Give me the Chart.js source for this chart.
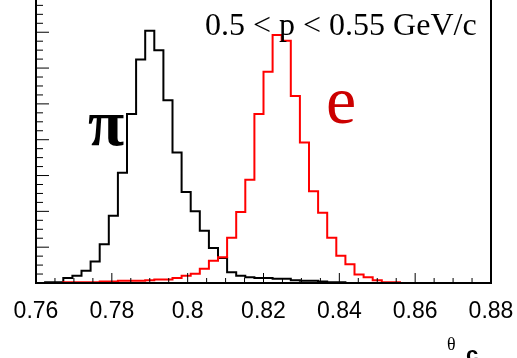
<!DOCTYPE html>
<html>
<head>
<meta charset="utf-8">
<script src="https://cdn.jsdelivr.net/npm/chart.js@4"></script>
<style>
    html, body { margin: 0; padding: 0; background: #fff; }
    #wrap { width: 517px; height: 358px; }
</style>
</head>
<body>
<div id="wrap"><canvas id="myChart" width="517" height="358"></canvas></div>
<script>
// histogram binning (50 bins starting at 0.76)
var binStart = 0.76;
var binWidth = 0.0024;

// pion (black) counts per bin
var pionCounts = [0, 1, 1, 7, 10, 17, 30, 54, 94, 154,
    236, 312, 352, 325, 255, 182, 127, 100, 73, 49,
    35, 15, 10, 8, 7, 7, 6, 6, 4, 3,
    3, 2, 1, 1, 0, 0, 0, 0, 0, 0,
    0, 0, 0, 0, 0, 0, 0, 0, 0, 0];

// electron (red) counts per bin
var electronCounts = [0, 0, 0, 1, 1, 1, 1, 2, 2, 3,
    3, 3, 4, 5, 5, 7, 10, 13, 20, 31,
    36, 63, 99, 144, 236, 295, 346, 338, 261, 196,
    128, 98, 63, 38, 26, 12, 8, 4, 1, 1,
    0, 0, 0, 0, 0, 0, 0, 0, 0, 0];

var xTickValues = [0.76, 0.78, 0.80, 0.82, 0.84, 0.86, 0.88];
var xTickLabels = ['0.76', '0.78', '0.8', '0.82', '0.84', '0.86', '0.88'];
var yTickValues = [0, 50, 100, 150, 200, 250, 300, 350];

function toSteps(counts) {
    var pts = counts.map(function (c, i) { return { x: binStart + i * binWidth, y: c }; });
    pts.push({ x: binStart + counts.length * binWidth, y: 0 });
    return pts;
}

// ROOT tarzı çerçeve, içe dönük tikler ve yazılar
var rootFrame = {
    id: 'rootFrame',
    afterDraw: function (chart) {
        var ctx = chart.ctx;
        var area = chart.chartArea;
        var xs = chart.scales.x;
        var ys = chart.scales.y;
        ctx.save();

        // frame (no top line, it is outside the picture)
        ctx.strokeStyle = '#000';
        ctx.lineWidth = 2;
        ctx.beginPath();
        ctx.moveTo(area.left, area.top);
        ctx.lineTo(area.left, area.bottom);
        ctx.lineTo(area.right, area.bottom);
        ctx.lineTo(area.right, area.top);
        ctx.stroke();

        // x ticks
        ctx.lineWidth = 1;
        ctx.beginPath();
        for (var i = 0; i < xTickValues.length; i++) {
            var px = xs.getPixelForValue(xTickValues[i]);
            ctx.moveTo(px, area.bottom);
            ctx.lineTo(px, area.bottom - 10);
            if (i < xTickValues.length - 1) {
                var step = (xTickValues[i + 1] - xTickValues[i]) / 4;
                for (var k = 1; k < 4; k++) {
                    var mx = xs.getPixelForValue(xTickValues[i] + k * step);
                    ctx.moveTo(mx, area.bottom);
                    ctx.lineTo(mx, area.bottom - 5);
                }
            }
        }
        // y ticks
        var yStep = (yTickValues[1] - yTickValues[0]) / 4;
        for (var v = 0; v <= ys.max + 0.001; v += yStep) {
            var py = ys.getPixelForValue(v);
            var isMajor = Math.abs(v / (yStep * 4) - Math.round(v / (yStep * 4))) < 1e-6;
            ctx.moveTo(area.left, py);
            ctx.lineTo(area.left + (isMajor ? 13 : 7), py);
        }
        ctx.stroke();

        // x tick labels
        ctx.fillStyle = '#000';
        ctx.font = '23px "Liberation Sans", Arial, sans-serif';
        ctx.textAlign = 'center';
        ctx.textBaseline = 'alphabetic';
        for (var j = 0; j < xTickValues.length; j++) {
            ctx.fillText(xTickLabels[j], xs.getPixelForValue(xTickValues[j]), 318);
        }

        // axis title theta_c
        ctx.textAlign = 'left';
        ctx.font = '18px "Liberation Serif", serif';
        ctx.fillText('\u03b8', 447, 350);
        ctx.font = 'bold 22px "Liberation Sans", sans-serif';
        ctx.fillText('c', 466, 362);

        // momentum range
        ctx.font = '32px "Liberation Serif", "Times New Roman", serif';
        ctx.fillText('0.5 < p < 0.55 GeV/c', 205, 35);

        // particle labels
        ctx.font = 'bold 66px "Liberation Serif", serif';
        ctx.fillText('\u03c0', 88, 145);
        ctx.fillStyle = '#cc0000';
        ctx.font = '68px "Liberation Serif", serif';
        ctx.fillText('e', 326, 123);

        ctx.restore();
    }
};

var ctx = document.getElementById('myChart').getContext('2d');
var chart = new Chart(ctx, {
    type: 'line',
    data: {
        datasets: [{
            label: 'e',
            data: toSteps(electronCounts),
            borderColor: '#ff0000',
            borderWidth: 2,
            stepped: true,
            pointRadius: 0,
            fill: false
        }, {
            label: 'pi',
            data: toSteps(pionCounts),
            borderColor: '#000000',
            borderWidth: 2,
            stepped: true,
            pointRadius: 0,
            fill: false
        }]
    },
    options: {
        responsive: false,
        animation: false,
        devicePixelRatio: 1,
        layout: { padding: { left: 36, right: 26, top: 0, bottom: 75 } },
        plugins: {
            legend: { display: false },
            tooltip: { enabled: false }
        },
        scales: {
            x: {
                type: 'linear',
                min: 0.76,
                max: 0.88,
                ticks: { display: false },
                grid: { display: false, drawTicks: false },
                border: { display: false }
            },
            y: {
                type: 'linear',
                min: 0,
                max: 395,
                ticks: { display: false },
                grid: { display: false, drawTicks: false },
                border: { display: false }
            }
        }
    },
    plugins: [rootFrame]
});
</script>
</body>
</html>
